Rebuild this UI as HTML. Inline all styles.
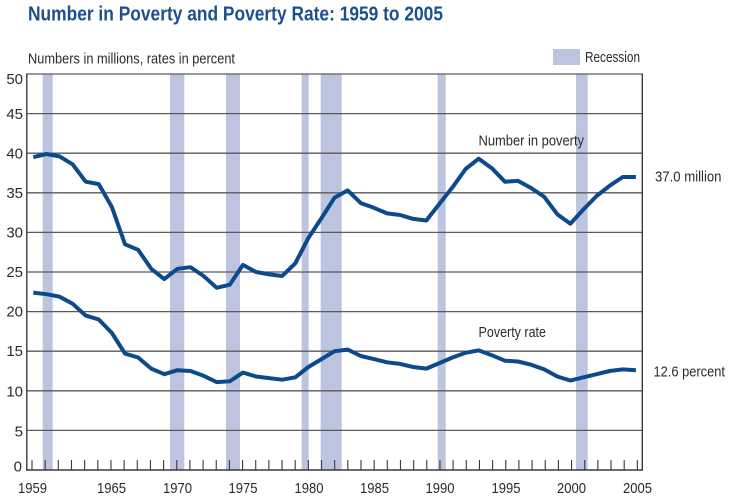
<!DOCTYPE html>
<html><head><meta charset="utf-8">
<style>
html,body{margin:0;padding:0;background:#fff;}
svg{display:block;}
text{font-family:"Liberation Sans Narrow","Liberation Sans",sans-serif;fill:#2b2b2b;}
</style></head>
<body>
<svg width="730" height="500" viewBox="0 0 730 500" xmlns="http://www.w3.org/2000/svg">
<!-- title -->
<text x="28" y="20.5" font-size="20" font-weight="bold" style="fill:#1b4f8e" textLength="415" lengthAdjust="spacingAndGlyphs">Number in Poverty and Poverty Rate:  1959 to 2005</text>
<text x="28" y="63.5" font-size="14.5" textLength="207" lengthAdjust="spacingAndGlyphs">Numbers in millions, rates in percent</text>
<!-- legend -->
<rect x="553" y="49" width="27" height="16" fill="#bcc4df"/>
<text x="585" y="62" font-size="14.5" textLength="55" lengthAdjust="spacingAndGlyphs">Recession</text>

<!-- recession bars -->
<g fill="#bcc4df">
<rect x="42.7" y="74" width="10" height="396"/>
<rect x="170" y="74" width="14.3" height="396"/>
<rect x="226" y="74" width="14" height="396"/>
<rect x="301.7" y="74" width="7" height="396"/>
<rect x="320.7" y="74" width="21" height="396"/>
<rect x="437.7" y="74" width="8" height="396"/>
<rect x="576" y="74" width="11.7" height="396"/>
</g>

<!-- gridlines -->
<g stroke="#5a5a5a" stroke-width="1.3">
<line x1="27" y1="74" x2="642.5" y2="74"/>
<line x1="27" y1="113.6" x2="642.5" y2="113.6"/>
<line x1="27" y1="153.2" x2="642.5" y2="153.2"/>
<line x1="27" y1="192.8" x2="642.5" y2="192.8"/>
<line x1="27" y1="232.4" x2="642.5" y2="232.4"/>
<line x1="27" y1="272" x2="642.5" y2="272"/>
<line x1="27" y1="311.6" x2="642.5" y2="311.6"/>
<line x1="27" y1="351.2" x2="642.5" y2="351.2"/>
<line x1="27" y1="390.8" x2="642.5" y2="390.8"/>
<line x1="27" y1="430.4" x2="642.5" y2="430.4"/>
</g>
<g stroke="#3a3a3a" stroke-width="1.4">
<line x1="26.8" y1="73.5" x2="26.8" y2="470.5"/>
<line x1="642.3" y1="73.5" x2="642.3" y2="470.5"/>
<line x1="26" y1="470" x2="643" y2="470"/>
</g>

<!-- ticks -->
<g stroke="#3a3a3a" stroke-width="1.1">
<path d="M32 460V470 M45.16 460V470 M58.32 460V470 M71.48 460V470 M84.64 460V470 M97.8 460V470 M110.96 460V470 M124.12 460V470 M137.28 460V470 M150.44 460V470 M163.6 460V470 M176.76 460V470 M189.92 460V470 M203.08 460V470 M216.24 460V470 M229.4 460V470 M242.56 460V470 M255.72 460V470 M268.88 460V470 M282.04 460V470 M295.2 460V470 M308.36 460V470 M321.52 460V470 M334.68 460V470 M347.84 460V470 M361 460V470 M374.16 460V470 M387.32 460V470 M400.48 460V470 M413.64 460V470 M426.8 460V470 M439.96 460V470 M453.12 460V470 M466.28 460V470 M479.44 460V470 M492.6 460V470 M505.76 460V470 M518.92 460V470 M532.08 460V470 M545.24 460V470 M558.4 460V470 M571.56 460V470 M584.72 460V470 M597.88 460V470 M611.04 460V470 M624.2 460V470 M637.36 460V470"/>
</g>

<!-- y labels -->
<g font-size="15" text-anchor="end">
<text x="23" y="84">50</text>
<text x="23" y="119">45</text>
<text x="23" y="158.5">40</text>
<text x="23" y="198">35</text>
<text x="23" y="237.5">30</text>
<text x="23" y="277">25</text>
<text x="23" y="316.5">20</text>
<text x="23" y="356">15</text>
<text x="23" y="396.5">10</text>
<text x="23" y="436.5">5</text>
<text x="22" y="471.5">0</text>
</g>

<!-- x labels -->
<g font-size="15" text-anchor="middle">
<text x="32.5" y="493" textLength="29" lengthAdjust="spacingAndGlyphs">1959</text>
<text x="111.5" y="493" textLength="29" lengthAdjust="spacingAndGlyphs">1965</text>
<text x="177.5" y="493" textLength="29" lengthAdjust="spacingAndGlyphs">1970</text>
<text x="243" y="493" textLength="29" lengthAdjust="spacingAndGlyphs">1975</text>
<text x="309" y="493" textLength="29" lengthAdjust="spacingAndGlyphs">1980</text>
<text x="374.5" y="493" textLength="29" lengthAdjust="spacingAndGlyphs">1985</text>
<text x="440" y="493" textLength="29" lengthAdjust="spacingAndGlyphs">1990</text>
<text x="506" y="493" textLength="29" lengthAdjust="spacingAndGlyphs">1995</text>
<text x="571.5" y="493" textLength="29" lengthAdjust="spacingAndGlyphs">2000</text>
<text x="637.5" y="493" textLength="29" lengthAdjust="spacingAndGlyphs">2005</text>
</g>

<!-- series -->
<g fill="none" stroke="#0d4a8b" stroke-width="4" stroke-linejoin="round" stroke-linecap="butt">
<polyline points="33.3,157.2 46.4,154.0 59.5,156.4 72.6,164.3 85.7,181.7 98.8,184.1 111.9,207.1 125.0,244.3 138.1,249.8 151.2,268.8 164.3,279.1 177.4,268.8 190.5,267.2 203.6,276.0 216.7,287.8 229.8,284.7 242.9,264.9 256.0,272.0 269.1,274.4 282.2,276.0 295.3,263.3 308.4,237.9 321.5,218.1 334.6,197.6 347.7,190.4 360.8,203.1 373.9,207.8 387.0,213.4 400.1,215.0 413.2,218.9 426.3,220.5 439.4,203.9 452.5,187.3 465.6,169.0 478.7,158.7 491.8,168.2 504.9,181.7 518.0,180.9 531.1,188.0 544.2,196.8 557.3,214.2 570.4,223.7 583.5,209.4 596.6,196.0 609.7,185.7 622.8,177.0 635.9,177.0"/>
<polyline points="33.3,292.6 46.4,294.2 59.5,296.6 72.6,303.7 85.7,315.6 98.8,319.5 111.9,333.0 125.0,353.6 138.1,357.5 151.2,368.6 164.3,374.2 177.4,370.2 190.5,371.0 203.6,375.8 216.7,382.1 229.8,381.3 242.9,372.6 256.0,376.5 269.1,378.1 282.2,379.7 295.3,377.3 308.4,367.0 321.5,359.1 334.6,351.2 347.7,349.6 360.8,356.0 373.9,359.1 387.0,362.3 400.1,363.9 413.2,367.0 426.3,368.6 439.4,363.1 452.5,357.5 465.6,352.8 478.7,350.4 491.8,355.2 504.9,360.7 518.0,361.5 531.1,364.7 544.2,369.4 557.3,376.5 570.4,380.5 583.5,377.3 596.6,374.2 609.7,371.0 622.8,369.4 635.9,370.2"/>
</g>

<!-- series labels -->
<g font-size="15">
<text x="478.5" y="145.5" textLength="105.5" lengthAdjust="spacingAndGlyphs">Number in poverty</text>
<text x="655" y="181.5" textLength="66.5" lengthAdjust="spacingAndGlyphs">37.0 million</text>
<text x="478.5" y="337" textLength="67.5" lengthAdjust="spacingAndGlyphs">Poverty rate</text>
<text x="653.5" y="376.5" textLength="71.5" lengthAdjust="spacingAndGlyphs">12.6 percent</text>
</g>
</svg>
</body></html>
